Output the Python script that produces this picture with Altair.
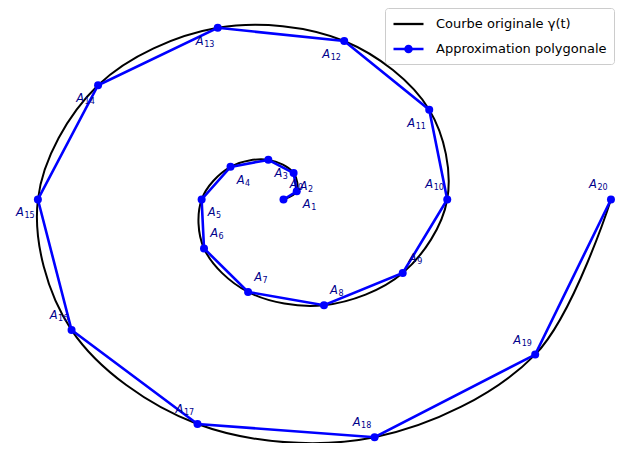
import altair as alt
import pandas as pd

# Vertices A_k of the polygonal approximation (data units)
idx = list(range(21))
xs = [0.0, 0.508, 0.388, -0.582, -2.033, -3.142, -3.050, -1.359, 1.553, 4.575,
      6.283, 5.592, 2.330, -2.524, -7.116, -9.425, -8.133, -3.301, 3.495, 9.658, 12.566]
ys = [0.0, 0.369, 1.195, 1.793, 1.477, 0.0, -2.216, -4.183, -4.781, -3.324,
      0.0, 4.062, 7.171, 7.768, 5.170, 0.0, -5.909, -10.159, -10.756, -7.017, 0.0]
series_names = ["Courbe originale γ(t)", "Approximation polygonale"]

df = pd.DataFrame({"k": idx, "x": xs, "y": ys})
df["num"] = df["k"].astype(str)

xsc = alt.Scale(domain=[-10.572, 13.143], nice=False, zero=False)
ysc = alt.Scale(domain=[-11.018, 8.665], nice=False, zero=False)
X = alt.X("x:Q", scale=xsc, axis=None)
Y = alt.Y("y:Q", scale=ysc, axis=None)

base = alt.Chart(df)

curve = base.mark_line(interpolate="catmull-rom", color="black", strokeWidth=2).encode(
    x=X, y=Y, order="k:Q")
poly = base.mark_line(color="blue", strokeWidth=2.6).encode(x=X, y=Y, order="k:Q")
pts = base.mark_circle(size=64, color="blue", opacity=1).encode(x=X, y=Y)

line_path = "M-1,0L3,0"
dot_path = ("M-1,0L3,0"
            "M1.42,0A0.42,0.42 0 1,1 0.58,0A0.42,0.42 0 1,1 1.42,0"
            "M1.2,0A0.2,0.2 0 1,1 0.8,0A0.2,0.2 0 1,1 1.2,0")

leg_df = pd.DataFrame({"series": series_names, "x": [0.0, 0.0], "y": [0.0, 0.0]})
legend = alt.Legend(
    orient="none", legendX=377, legendY=0, title=None,
    symbolSize=225, labelOffset=26, padding=7, rowPadding=9, labelLimit=400,
    labelFont="DejaVu Sans", labelFontSize=13, labelColor="black",
    strokeColor="#cccccc", fillColor="white", cornerRadius=3,
    symbolStrokeWidth=2.3, symbolOpacity=1,
)
proxy = alt.Chart(leg_df).mark_point(size=225, filled=False, strokeWidth=2.3).encode(
    x=X, y=Y,
    color=alt.Color("series:N", scale=alt.Scale(domain=series_names, range=["black", "blue"]),
                    legend=legend),
    shape=alt.Shape("series:N", scale=alt.Scale(domain=series_names, range=[line_path, dot_path]),
                    legend=legend),
).transform_filter("false")

groups = [
    ("datum.k >= 1 && datum.k <= 5", 1, 1),
    ("datum.k == 0 || (datum.k >= 6 && datum.k <= 9)", 1, -1),
    ("datum.k >= 11 && datum.k <= 15", -1, 1),
    ("datum.k == 10 || datum.k >= 16", -1, -1),
]
label_layers = []
for cond, sx, sy in groups:
    ax = sx * 14 - 2
    a = base.mark_text(font="DejaVu Sans", fontStyle="italic", fontSize=11.5, color="#00008b",
                       align="right", baseline="middle", dx=ax + 2, dy=sy * 14).encode(
        x=X, y=Y, text=alt.value("A")).transform_filter(cond)
    n = base.mark_text(font="DejaVu Sans", fontSize=8, color="#00008b",
                       align="left", baseline="middle", dx=ax + 2.5, dy=sy * 14 + 3).encode(
        x=X, y=Y, text="num:N").transform_filter(cond)
    label_layers += [a, n]

chart = alt.layer(curve, poly, pts, proxy, *label_layers).properties(
    width=618, height=435,
    autosize=alt.AutoSizeParams(type="none"),
    padding=0,
).configure_view(strokeWidth=0)

chart.save("out.html", embed_options={"renderer": "svg", "actions": False})
